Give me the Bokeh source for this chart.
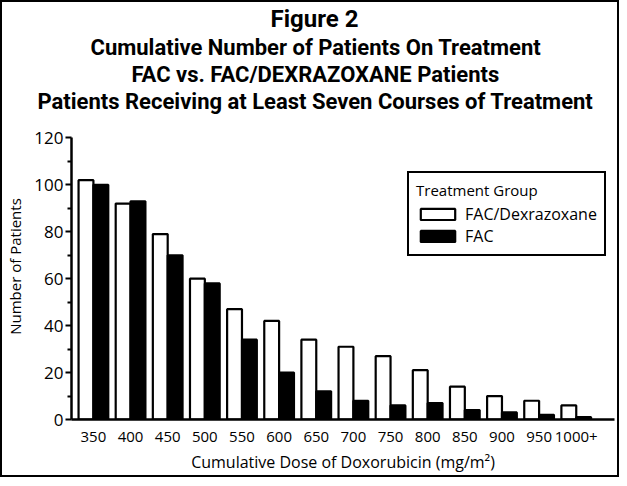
from bokeh.plotting import figure
from bokeh.models import (Range1d, Title, Legend, LegendItem, FixedTicker, ColumnDataSource)
from bokeh.embed import file_html
from bokeh.resources import INLINE

# ---- data ----
doses = ["350", "400", "450", "500", "550", "600", "650", "700", "750", "800",
         "850", "900", "950", "1000+"]
fac_dex = [102, 92, 79, 60, 47, 42, 34, 31, 27, 21, 14, 10, 8, 6]
fac = [100, 93, 70, 58, 34, 20, 12, 8, 6, 7, 4, 3, 2, 1]
title_lines = ["Figure 2",
               "Cumulative Number of Patients On Treatment",
               "FAC vs. FAC/DEXRAZOXANE Patients",
               "Patients Receiving at Least Seven Courses of Treatment"]
series_names = ["FAC/Dexrazoxane", "FAC"]
legend_title = "Treatment Group"
y_ticks = [0, 20, 40, 60, 80, 100, 120]

FONT = "Open Sans"
TFONT = "Roboto"

p = figure(title=None, frame_width=543, frame_height=306, output_backend="svg",
           toolbar_location=None,
           x_range=Range1d(-0.59, 14.03), y_range=Range1d(0, 130.4),
           min_border_left=61, min_border_right=3, min_border_top=0,
           min_border_bottom=54)
p.styles = {"border": "2px solid black"}
p.outline_line_color = None
p.xgrid.visible = False
p.ygrid.visible = False
p.background_fill_color = "white"
p.border_fill_color = "white"

xs = list(range(len(doses)))
src = ColumnDataSource(dict(
    xw=[x - 0.2 for x in xs], xb=[x + 0.2 for x in xs],
    w=fac_dex, b=fac))
r1 = p.vbar(x="xw", top="w", bottom=0, width=0.4, source=src,
            fill_color="white", line_color="black", line_width=2.2)
r2 = p.vbar(x="xb", top="b", bottom=0, width=0.4, source=src,
            fill_color="black", line_color="black", line_width=2.2)

# x axis
p.xaxis.ticker = FixedTicker(ticks=xs)
p.xaxis.major_label_overrides = {i: d for i, d in enumerate(doses)}
p.xaxis.major_tick_line_color = None
p.xaxis.minor_tick_line_color = None
p.xaxis.axis_line_width = 2.5
p.xaxis.axis_line_color = "black"
p.xaxis.major_label_text_font = FONT
p.xaxis.major_label_text_font_size = "15px"
p.xaxis.major_label_text_color = "black"
p.xaxis.major_label_standoff = 6
p.xaxis.axis_label = "Cumulative Dose of Doxorubicin (mg/m\u00b2)"
p.xaxis.axis_label_text_font = FONT
p.xaxis.axis_label_text_font_size = "16px"
p.xaxis.axis_label_text_font_style = "normal"
p.xaxis.axis_label_text_color = "black"
p.xaxis.axis_label_standoff = 6

# y axis
p.yaxis.ticker = FixedTicker(ticks=y_ticks, minor_ticks=[10, 30, 50, 70, 90, 110])
p.yaxis.bounds = (0, 120)
p.yaxis.axis_line_width = 2.5
p.yaxis.axis_line_color = "black"
p.yaxis.major_tick_line_width = 2
p.yaxis.major_tick_out = 6
p.yaxis.major_tick_in = 0
p.yaxis.minor_tick_line_width = 2
p.yaxis.minor_tick_out = 4
p.yaxis.minor_tick_in = 0
p.yaxis.major_label_text_font = FONT
p.yaxis.major_label_text_font_size = "17px"
p.yaxis.major_label_text_color = "black"
p.yaxis.major_label_standoff = 2
p.yaxis.axis_label = "Number of Patients"
p.yaxis.axis_label_text_font = FONT
p.yaxis.axis_label_text_font_size = "15px"
p.yaxis.axis_label_text_font_style = "normal"
p.yaxis.axis_label_text_color = "black"
p.yaxis.axis_label_standoff = 6

# legend
legend = Legend(items=[LegendItem(label=series_names[0], renderers=[r1]),
                       LegendItem(label=series_names[1], renderers=[r2])],
                location=(336, 163), title=legend_title,
                title_text_font=FONT, title_text_font_size="15px",
                title_text_font_style="normal", title_text_color="black",
                title_standoff=3,
                label_text_font=FONT, label_text_font_size="16px",
                label_text_color="black",
                glyph_width=43, glyph_height=14, label_standoff=6,
                label_height=14, spacing=0, padding=7, margin=0,
                border_line_color="black", border_line_width=2,
                border_line_alpha=1.0,
                background_fill_color="white", background_fill_alpha=1.0)
p.add_layout(legend, "center")

# titles (added from the one nearest the plot outward); left-aligned with
# offsets so that each line is centred on the whole figure, not the frame
sizes = ["24px", "22px", "22px", "22px"]
offsets = [199, 19, 60, -34]
for txt, sz, off in reversed(list(zip(title_lines, sizes, offsets))):
    p.add_layout(Title(text=txt, align="left", text_font=TFONT,
                       text_font_size=sz, text_font_style="bold",
                       text_color="black", standoff=0, offset=off), "above")

open("out.html", "w").write(file_html(p, INLINE))
